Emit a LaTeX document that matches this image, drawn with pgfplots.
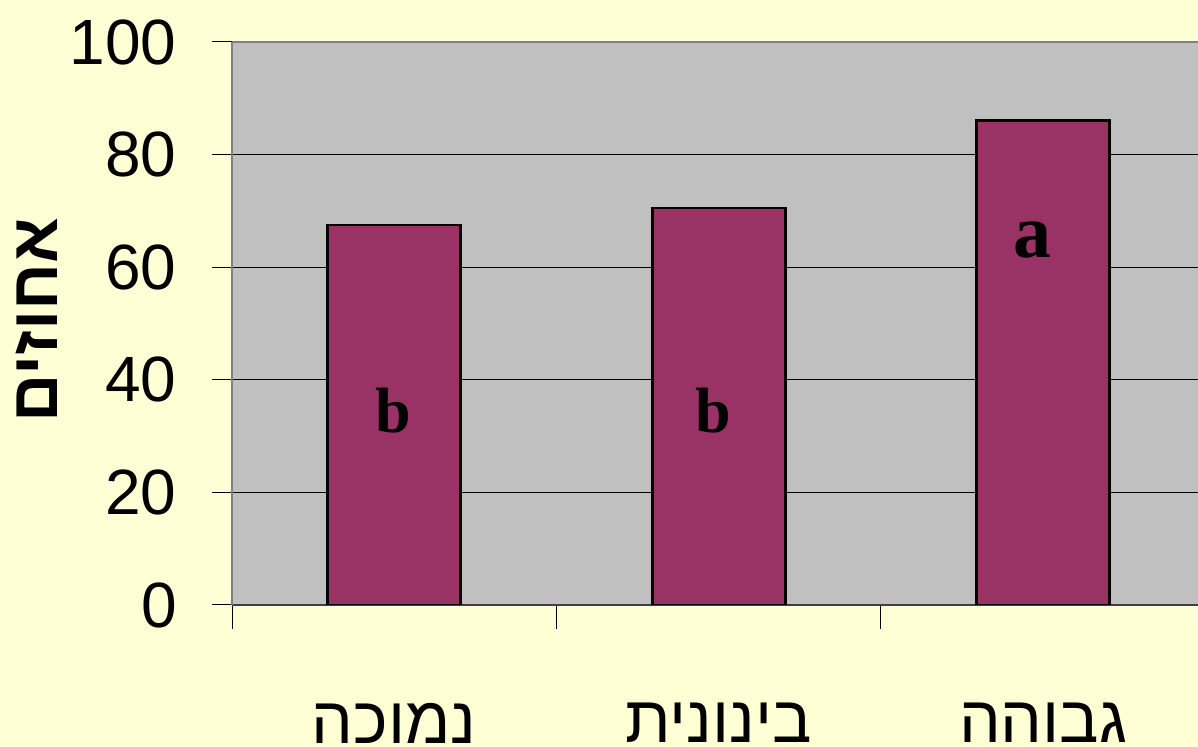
\documentclass[border=0pt]{standalone}
\usepackage{pgfplots}
\pgfplotsset{compat=1.18}
\usepackage{fontspec}
\setmainfont{Liberation Sans}
\newfontfamily\hebfont[Script=Hebrew]{Liberation Sans}
\newfontfamily\serifb{Liberation Serif}
\TeXXeTstate=1
\definecolor{bgc}{HTML}{FFFFD5}
\definecolor{plotc}{HTML}{C0C0C0}
\definecolor{barc}{HTML}{993366}
\begin{document}
\begin{tikzpicture}
\useasboundingbox (0,0) rectangle (599pt,373.5pt);
\clip (0,0) rectangle (599pt,373.5pt);
\fill[bgc] (0,0) rectangle (599pt,373.5pt);
\begin{axis}[
  at={(116pt,71pt)}, anchor=south west, scale only axis,
  width=483pt, height=281.5pt,
  xmin=-0.5, xmax=2.477, ymin=0, ymax=100,
  axis background/.style={fill=plotc},
  axis x line*=bottom, axis y line*=left,
  x axis line style={draw=black!75, line width=1pt},
  y axis line style={draw=black!50, line width=1pt},
  tick align=outside,
  ytick={0,20,...,100},
  ymajorgrids, major grid style={black, line width=0.5pt},
  xtick={0,1,2},
  xticklabels={{\beginR נמוכה\endR},{\beginR בינונית\endR},{\beginR גבוהה\endR}},
  major x tick style={draw=none},
  minor xtick={-0.5,0.5,1.5,2.5},
  minor x tick style={draw=black, line width=0.5pt},
  minor tick length=12pt, major tick length=10pt,
  ytick style={draw=black, line width=0.5pt},
  /pgf/number format/assume math mode=true,
  yticklabel style={font=\fontsize{32}{32}\selectfont, inner sep=0pt, xshift=-17.5pt},
  xticklabel style={font=\hebfont\fontsize{33}{33}\selectfont, inner sep=0pt, yshift=-39pt},
  ylabel={\beginR אחוזים\endR},
  every axis y label/.style={at={(axis description cs:-0.2019,0.506)}, rotate=90, anchor=center},
  ylabel style={font=\hebfont\bfseries\fontsize{33.5}{33.5}\selectfont},
  ybar, bar width=66.5pt,
]
\addplot[fill=barc, draw=black, line width=1.3pt] coordinates {(0,67.5) (1,70.5) (2,86.1)};
\node[font=\serifb\bfseries\fontsize{32}{32}\selectfont] at (axis cs:-0.004,34.6) {b};
\node[font=\serifb\bfseries\fontsize{32}{32}\selectfont] at (axis cs:0.982,34.6) {b};
\node[font=\serifb\bfseries\fontsize{38}{38}\selectfont] at (axis cs:1.968,64.9) {a};
\draw[draw=black!50, line width=1.5pt] (rel axis cs:0,1) -- (rel axis cs:1,1);
\end{axis}
\end{tikzpicture}
\end{document}
